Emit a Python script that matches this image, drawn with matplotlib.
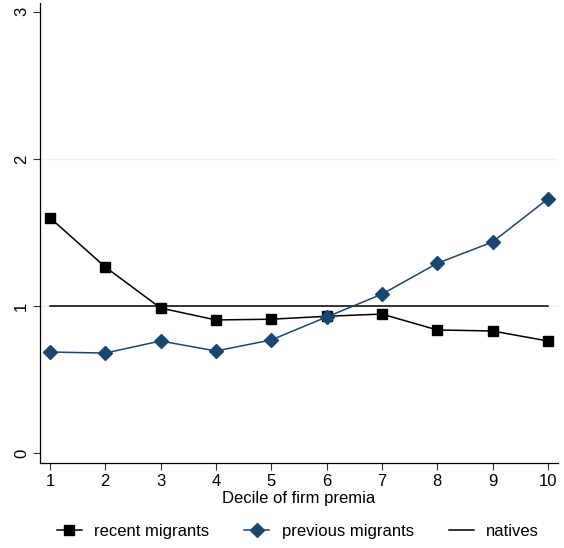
import matplotlib
matplotlib.use("Agg")
import matplotlib.pyplot as plt
from matplotlib.lines import Line2D

deciles = [1, 2, 3, 4, 5, 6, 7, 8, 9, 10]
recent = [1.60, 1.265, 0.986, 0.905, 0.91, 0.93, 0.945, 0.837, 0.83, 0.762]
previous = [0.687, 0.68, 0.762, 0.694, 0.769, 0.925, 1.08, 1.29, 1.435, 1.728]
natives = [1.0] * 10
yticks = [0, 1, 2, 3]

plt.rcParams['font.family'] = ['Liberation Sans', 'DejaVu Sans']
navy = '#1a476f'

fig = plt.figure(figsize=(5.64, 5.48), dpi=100)
ax = fig.add_axes([0.0709, 0.155, 0.989 - 0.0709, 0.9945 - 0.155])

for g in [1, 2]:
    ax.axhline(g, color='#eaf2f3', lw=1.0, zorder=0)

ax.plot(deciles, natives, color='black', lw=1.1, zorder=2)
ax.plot(deciles, recent, color='black', lw=1.1, marker='s', markersize=7.5, zorder=3)
ax.plot(deciles, previous, color=navy, lw=1.1, marker='D', markersize=7.5, zorder=4)

ax.set_xlim(0.82, 10.18)
ax.set_ylim(-0.068, 3.06)
ax.set_xticks(deciles)
ax.set_yticks(yticks)
ax.set_yticklabels([str(t) for t in yticks], rotation=90, va='center')
ax.tick_params(axis='both', labelsize=12, length=5, width=0.8, color='#333333', pad=3)
for s in ['top', 'right']:
    ax.spines[s].set_visible(False)
for s in ['left', 'bottom']:
    ax.spines[s].set_linewidth(0.9)
ax.set_xlabel('Decile of firm premia', fontsize=12, labelpad=1)

handles = [
    Line2D([], [], color='black', lw=1.1, marker='s', markersize=7.5),
    Line2D([], [], color=navy, lw=1.1, marker='D', markersize=7.5),
    Line2D([], [], color='black', lw=1.1),
]
fig.legend(handles, ['recent migrants', 'previous migrants', 'natives'],
           loc='center', bbox_to_anchor=(0.528, 0.031), ncol=3, frameon=False,
           fontsize=12, handlelength=1.5, columnspacing=2.1, handletextpad=0.75)

fig.savefig('out.png', dpi=100, facecolor='white')
